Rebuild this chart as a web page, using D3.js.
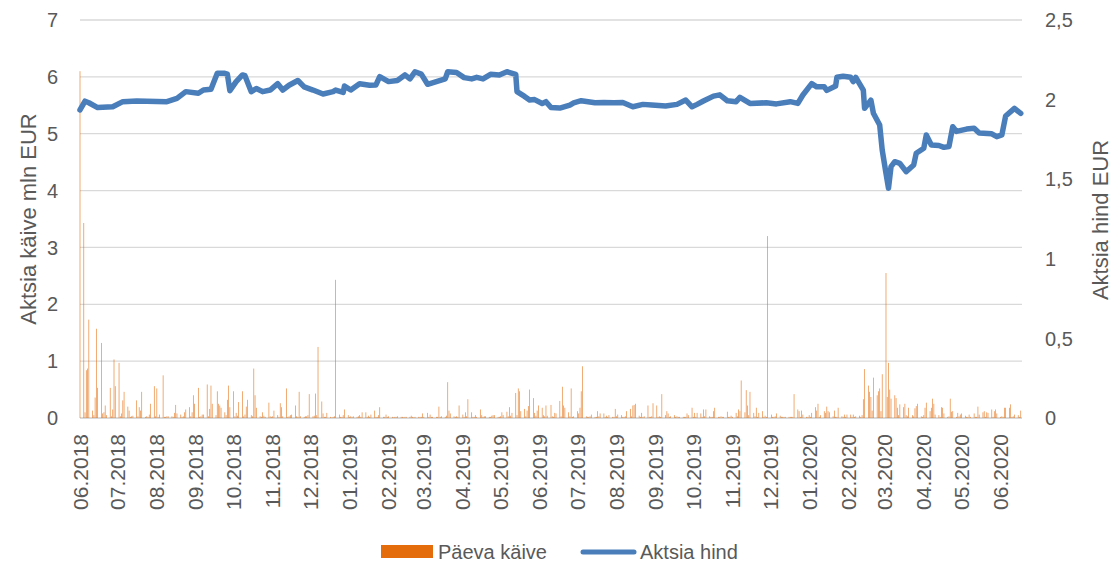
<!DOCTYPE html>
<html>
<head>
<meta charset="utf-8">
<script src="https://cdn.jsdelivr.net/npm/d3@7"></script>
<style>
  body { margin: 0; background: #fff; }
  svg { font-family: "Liberation Sans", Arial, sans-serif; }
</style>
</head>
<body>
<svg width="1115" height="562"></svg>
<script>
// Päeva käive (mln EUR), üks väärtus iga tööpäeva kohta alates 01.06.2018
const kaive = [
  6.1,
  3.43,0.1,0.84,0.87,1.73, 0.13,0.05,0.36,1.57,0.53, 1.32,0.08,0.1,0.22,0.05, 0.53,0.03,0.15,1.03,0.56,
  0.97,0.03,0.08,0.31,0.46, 0.2,0.13,0.02,0.03,0.04, 0.31,0.03,0.19,0.13,0.46, 0.02,0.03,0.02,0.06,0.25,
  0.56,0.03,0.52,0.02,0.06, 0.75,0.02,0.02,0.03,0.03, 0.03,0.02,0.09,0.23,0.08, 0.06,0.02,0.03,0.1,0.15,
  0.19,0.03,0.1,0.4,0.25, 0.53,0.02,0.03,0.06,0.06, 0.59,0.03,0.16,0.57,0.25, 0.05,0.47,0.25,0.22,0.18,
  0.1,0.05,0.32,0.57,0.19, 0.47,0.03,0.09,0.04,0.28, 0.47,0.03,0.06,0.2,0.32, 0.05,0.03,0.87,0.4,0.18,
  0.03,0.02,0.1,0.04,0.02, 0.27,0.03,0.02,0.03,0.13, 0.05,0.02,0.26,0.19,0.03, 0.52,0.02,0.03,0.05,0.06,
  0.22,0.03,0.02,0.46,0.03, 0.02,0.03,0.03,0.05,0.42, 0.03,0.04,0.43,0.05,1.25, 0.29,0.08,0.02,0.02,0.09,
  0.02,0.01,0.02,0.03,2.43, 0.06,0.02,0.02,0.05,0.15, 0.05,0.02,0.03,0.02,0.03, 0.02,0.03,0.05,0.02,0.1,
  0.1,0.02,0.04,0.02,0.06, 0.13,0.02,0.02,0.05,0.19, 0.02,0.02,0.06,0.02,0.03, 0.02,0.01,0.02,0.02,0.03,
  0.02,0.02,0.01,0.02,0.02, 0.02,0.04,0.02,0.01,0.02, 0.02,0.02,0.02,0.08,0.02, 0.09,0.02,0.06,0.02,0.02,
  0.02,0.02,0.2,0.02,0.03, 0.02,0.04,0.63,0.13,0.08, 0.03,0.02,0.03,0.02,0.22, 0.06,0.02,0.1,0.03,0.33,
  0.1,0.02,0.02,0.05,0.02, 0.15,0.05,0.02,0.03,0.03, 0.02,0.02,0.04,0.05,0.05, 0.02,0.02,0.03,0.1,0.05,
  0.11,0.03,0.19,0.04,0.09, 0.44,0.05,0.52,0.47,0.12, 0.16,0.03,0.13,0.21,0.5, 0.35,0.09,0.04,0.13,0.22,
  0.18,0.05,0.03,0.22,0.04, 0.23,0.03,0.02,0.09,0.08, 0.3,0.03,0.55,0.22,0.18, 0.1,0.03,0.52,0.02,0.03,
  0.12,0.08,0.18,0.47,0.91, 0.03,0.02,0.02,0.03,0.06, 0.02,0.02,0.12,0.03,0.08, 0.08,0.02,0.04,0.02,0.05,
  0.02,0.02,0.16,0.03,0.06, 0.05,0.02,0.02,0.03,0.12, 0.16,0.03,0.22,0.23,0.25, 0.04,0.02,0.09,0.02,0.03,
  0.22,0.02,0.02,0.03,0.26, 0.22,0.02,0.03,0.02,0.42, 0.05,0.12,0.08,0.02,0.03, 0.05,0.02,0.03,0.02,0.02,
  0.02,0.02,0.02,0.08,0.05, 0.18,0.02,0.09,0.02,0.09, 0.08,0.02,0.15,0.03,0.15, 0.03,0.02,0.02,0.12,0.18,
  0.02,0.02,0.03,0.02,0.02, 0.11,0.02,0.02,0.04,0.02, 0.09,0.03,0.15,0.12,0.66, 0.1,0.49,0.22,0.05,0.46,
  0.09,0.03,0.18,0.02,0.09, 0.12,0.02,0.04,0.02,3.2, 0.06,0.02,0.02,0.03,0.08, 0.04,0.02,0.02,0.02,0.02,
  0.02,0.02,0.02,0.02,0.42, 0.15,0.12,0.02,0.13,0.06, 0.02,0.02,0.05,0.02,0.09, 0.19,0.13,0.25,0.02,0.05,
  0.12,0.09,0.2,0.12,0.1, 0.03,0.13,0.02,0.02,0.18, 0.03,0.02,0.06,0.02,0.06, 0.06,0.02,0.06,0.02,0.03,
  0.04,0.02,0.05,0.33,0.86, 0.57,0.46,0.37,0.13,0.71, 0.4,0.47,0.52,0.12,0.77, 2.55,0.37,0.97,0.5,0.34,
  0.4,0.35,0.18,0.05,0.24, 0.19,0.25,0.05,0.03,0.18, 0.05,0.03,0.17,0.21,0.25, 0.03,0.02,0.05,0.18,0.27,
  0.12,0.18,0.34,0.25,0.06, 0.05,0.02,0.19,0.18,0.08, 0.02,0.03,0.34,0.11,0.12, 0.02,0.09,0.03,0.06,0.08,
  0.04,0.02,0.02,0.06,0.02, 0.08,0.02,0.02,0.2,0.06, 0.1,0.12,0.02,0.1,0.09, 0.15,0.02,0.12,0.15,0.08,
  0.02,0.03,0.02,0.18,0.18, 0.18,0.24,0.02,0.03,0.06, 0.05,0.02,0.13
];

// Aktsia hind (EUR)
const hinnaKuupaevad = [
  "2018-06-01","2018-06-05","2018-06-08","2018-06-15","2018-06-27","2018-07-05","2018-07-16","2018-08-09",
  "2018-08-17","2018-08-24","2018-09-03","2018-09-07","2018-09-13","2018-09-18","2018-09-24","2018-09-26",
  "2018-09-28","2018-10-03","2018-10-08","2018-10-10","2018-10-15","2018-10-19","2018-10-24","2018-10-30",
  "2018-11-05","2018-11-09","2018-11-14","2018-11-21","2018-11-26","2018-12-03","2018-12-11","2018-12-19",
  "2018-12-21","2018-12-27","2018-12-28","2019-01-02","2019-01-09","2019-01-17","2019-01-22","2019-01-25",
  "2019-02-01","2019-02-08","2019-02-14","2019-02-18","2019-02-22","2019-02-27","2019-03-04","2019-03-11",
  "2019-03-18","2019-03-20","2019-03-27","2019-04-02","2019-04-08","2019-04-12","2019-04-17","2019-04-23",
  "2019-04-30","2019-05-06","2019-05-13","2019-05-14","2019-05-20","2019-05-24","2019-05-28","2019-06-03",
  "2019-06-06","2019-06-10","2019-06-17","2019-06-25","2019-06-28","2019-07-04","2019-07-15","2019-07-22",
  "2019-07-30","2019-08-06","2019-08-14","2019-08-22","2019-08-29","2019-09-09","2019-09-18","2019-09-25",
  "2019-09-30","2019-10-04","2019-10-09","2019-10-17","2019-10-22","2019-10-28","2019-11-04","2019-11-07",
  "2019-11-15","2019-11-28","2019-12-06","2019-12-17","2019-12-23","2019-12-27","2020-01-03","2020-01-07",
  "2020-01-13","2020-01-15","2020-01-22","2020-01-23","2020-01-28","2020-02-03","2020-02-05","2020-02-07",
  "2020-02-13","2020-02-14","2020-02-19","2020-02-21","2020-02-26","2020-02-28","2020-03-02","2020-03-04",
  "2020-03-06","2020-03-09","2020-03-13","2020-03-18","2020-03-24","2020-03-26","2020-04-01","2020-04-03",
  "2020-04-07","2020-04-13","2020-04-17","2020-04-21","2020-04-24","2020-04-27","2020-05-05","2020-05-11",
  "2020-05-15","2020-05-25","2020-05-29","2020-06-02","2020-06-05","2020-06-12","2020-06-17"
];
const hind = [
  1.935,1.99,1.98,1.95,1.955,1.987,1.991,1.987,
  2.008,2.05,2.04,2.06,2.065,2.165,2.165,2.16,
  2.056,2.113,2.155,2.15,2.05,2.07,2.05,2.06,
  2.10,2.06,2.09,2.12,2.08,2.06,2.035,2.05,
  2.06,2.045,2.085,2.06,2.10,2.09,2.092,2.144,
  2.113,2.12,2.155,2.13,2.175,2.16,2.096,2.113,
  2.13,2.175,2.17,2.138,2.13,2.14,2.13,2.159,
  2.155,2.175,2.159,2.05,2.02,1.997,2.0,1.976,
  1.987,1.95,1.947,1.966,1.98,1.993,1.98,1.982,
  1.98,1.982,1.955,1.97,1.966,1.96,1.97,1.997,
  1.955,1.97,1.991,2.022,2.03,1.993,1.987,2.014,
  1.976,1.98,1.973,1.987,1.976,2.029,2.10,2.08,
  2.08,2.058,2.085,2.14,2.147,2.14,2.113,2.14,
  2.06,1.945,1.997,1.914,1.84,1.683,1.537,1.443,
  1.579,1.61,1.60,1.547,1.589,1.663,1.694,1.778,
  1.715,1.712,1.70,1.705,1.83,1.80,1.815,1.82,
  1.79,1.785,1.767,1.778,1.897,1.945,1.914
];

const vasakTickid = [0, 1, 2, 3, 4, 5, 6, 7];
const paremTickid = [0, 0.5, 1, 1.5, 2, 2.5];

const svg = d3.select("svg");
const algus = new Date(2018, 5, 1), lopp = new Date(2020, 5, 18);
const parse = d3.timeParse("%Y-%m-%d");

// tööpäevad käibe tulpade jaoks
const paevad = d3.timeDay.range(algus, lopp)
    .filter(d => d.getDay() !== 0 && d.getDay() !== 6)
    .slice(0, kaive.length);

const x = d3.scaleTime().domain([algus, lopp]).range([80, 1022]);
const yL = d3.scaleLinear().domain([0, 7]).range([418, 20]);
const yR = d3.scaleLinear().domain([0, 2.5]).range([418, 20]);

const hall = "#595959";
const koma = d => String(d).replace(".", ",");

// ruudustik
svg.append("g").selectAll("line")
    .data(vasakTickid)
    .enter().append("line")
    .attr("x1", 80).attr("x2", 1022)
    .attr("y1", d => yL(d)).attr("y2", d => yL(d))
    .attr("stroke", "#d9d9d9")
    .attr("stroke-width", d => d === 0 ? 2 : 1.3);

// käibe tulbad
svg.append("g").selectAll("rect")
    .data(kaive)
    .enter().append("rect")
    .attr("x", (d, i) => x(paevad[i]) - 0.35)
    .attr("width", 0.7)
    .attr("y", d => yL(d))
    .attr("height", d => yL(0) - yL(d))
    .attr("fill", "#E46C0A")
    .attr("fill-opacity", 0.8);

// hinna joon
const line = d3.line()
    .x(d => x(parse(d[0])))
    .y(d => yR(d[1]));

svg.append("path")
    .datum(hinnaKuupaevad.map((d, i) => [d, hind[i]]))
    .attr("d", line)
    .attr("fill", "none")
    .attr("stroke", "#4A7EBB")
    .attr("stroke-width", 5.5)
    .attr("stroke-linejoin", "round")
    .attr("stroke-linecap", "round");

// vasak telg
svg.append("g").selectAll("text")
    .data(vasakTickid)
    .enter().append("text")
    .attr("x", 58).attr("y", d => yL(d))
    .attr("dy", "0.36em")
    .attr("text-anchor", "end")
    .attr("font-size", 20)
    .attr("fill", hall)
    .text(d => d);

// parem telg
svg.append("g").selectAll("text")
    .data(paremTickid)
    .enter().append("text")
    .attr("x", 1045).attr("y", d => yR(d))
    .attr("dy", "0.36em")
    .attr("font-size", 20)
    .attr("fill", hall)
    .text(koma);

// kuu sildid
const kuud = d3.timeMonth.range(algus, new Date(2020, 5, 2));
svg.append("g").selectAll("text")
    .data(kuud)
    .enter().append("text")
    .attr("transform", d => `translate(${x(d)},434) rotate(-90)`)
    .attr("dy", "0.36em")
    .attr("text-anchor", "end")
    .attr("font-size", 21)
    .attr("fill", hall)
    .text(d3.timeFormat("%m.%Y"));

// telgede pealkirjad
svg.append("text")
    .attr("transform", "translate(28,219) rotate(-90)")
    .attr("dy", "0.36em")
    .attr("text-anchor", "middle")
    .attr("font-size", 22)
    .attr("fill", hall)
    .text("Aktsia käive mln EUR");

svg.append("text")
    .attr("transform", "translate(1100,220) rotate(-90)")
    .attr("dy", "0.36em")
    .attr("text-anchor", "middle")
    .attr("font-size", 22)
    .attr("fill", hall)
    .text("Aktsia hind EUR");

// legend
const leg = svg.append("g");
leg.append("rect")
    .attr("x", 381).attr("y", 545).attr("width", 52).attr("height", 13)
    .attr("fill", "#E46C0A");
leg.append("text")
    .attr("x", 438).attr("y", 552).attr("dy", "0.36em")
    .attr("font-size", 20).attr("fill", hall)
    .text("Päeva käive");
leg.append("line")
    .attr("x1", 583).attr("x2", 634).attr("y1", 552).attr("y2", 552)
    .attr("stroke", "#4A7EBB").attr("stroke-width", 5)
    .attr("stroke-linecap", "round");
leg.append("text")
    .attr("x", 640).attr("y", 552).attr("dy", "0.36em")
    .attr("font-size", 20).attr("fill", hall)
    .text("Aktsia hind");
</script>
</body>
</html>
